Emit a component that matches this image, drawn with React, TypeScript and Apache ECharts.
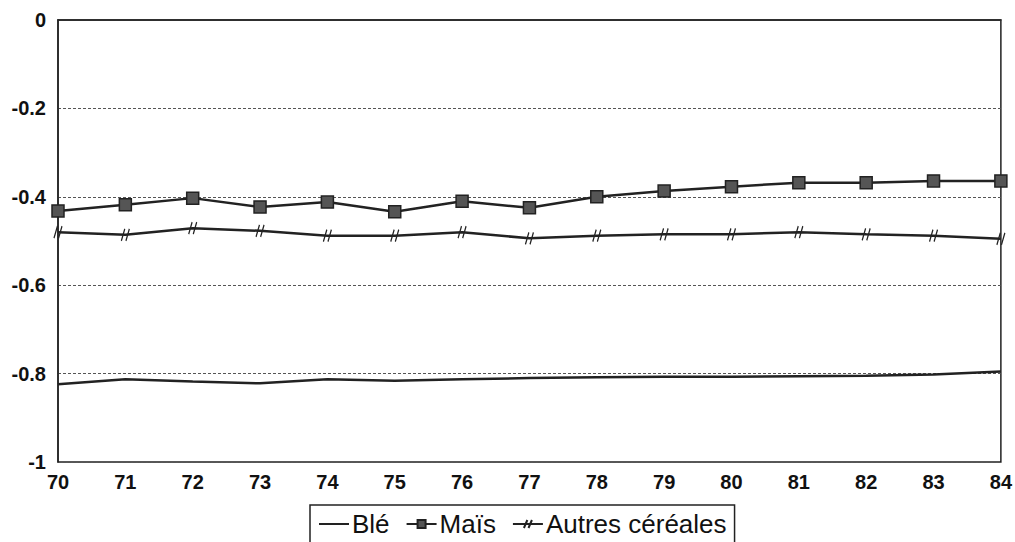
import React, { useEffect, useRef } from "react";
import * as echarts from "echarts";

const years = ["70", "71", "72", "73", "74", "75", "76", "77", "78", "79", "80", "81", "82", "83", "84"];
const ble = [-0.824, -0.813, -0.818, -0.822, -0.813, -0.816, -0.813, -0.81, -0.808, -0.807, -0.807, -0.806, -0.805, -0.802, -0.795];
const mais = [-0.432, -0.418, -0.403, -0.423, -0.412, -0.434, -0.41, -0.425, -0.4, -0.387, -0.377, -0.368, -0.368, -0.364, -0.364];
const autres = [-0.48, -0.486, -0.471, -0.477, -0.488, -0.488, -0.48, -0.494, -0.488, -0.485, -0.485, -0.48, -0.485, -0.488, -0.495];
const seriesNames = ["Blé", "Maïs", "Autres céréales"];

const FONT = "'Liberation Sans', Arial, sans-serif";
const tickSymbol = "path://M4,0 L1,12 M8,0 L5,12";

export default function App() {
  const ref = useRef<HTMLDivElement>(null);
  useEffect(() => {
    if (!ref.current) return;
    const chart = echarts.init(ref.current, undefined, { renderer: "svg" });
    chart.setOption({
      animation: false,
      backgroundColor: "#fff",
      grid: {
        left: 58,
        right: 10,
        top: 20,
        bottom: 80,
        show: true,
        borderColor: "#222",
        borderWidth: 1.5,
        containLabel: false,
      },
      legend: {
        left: 310,
        top: 505,
        data: [
          { name: seriesNames[0], itemStyle: { opacity: 0 } },
          { name: seriesNames[1] },
          { name: seriesNames[2] },
        ],
        itemWidth: 30,
        itemHeight: 10,
        itemGap: 16,
        padding: [6, 8, 12, 8],
        borderColor: "#222",
        borderWidth: 1.5,
        textStyle: { fontFamily: FONT, fontSize: 26, color: "#111", padding: [0, 0, 0, -2] },
      },
      xAxis: {
        type: "category",
        data: years,
        boundaryGap: false,
        axisLine: { lineStyle: { color: "#222", width: 1.5 } },
        axisTick: { show: false },
        splitLine: { show: false },
        axisLabel: {
          fontFamily: FONT,
          fontSize: 20,
          fontWeight: "bold",
          color: "#111",
          margin: 10,
          showMaxLabel: true,
          showMinLabel: true,
          interval: 0,
        },
      },
      yAxis: {
        type: "value",
        min: -1,
        max: 0,
        interval: 0.2,
        axisLine: { show: true, lineStyle: { color: "#222", width: 1.5 } },
        axisTick: { show: false },
        splitLine: { show: true, lineStyle: { color: "#555", width: 1, type: [3, 2] } },
        axisLabel: {
          fontFamily: FONT,
          fontSize: 20,
          fontWeight: "bold",
          color: "#111",
          margin: 12,
        },
      },
      series: [
        {
          name: seriesNames[0],
          type: "line",
          data: ble,
          showSymbol: false,
          symbol: "none",
          lineStyle: { color: "#222", width: 2.5 },
          itemStyle: { color: "#222" },
        },
        {
          name: seriesNames[1],
          type: "line",
          data: mais,
          symbol: "rect",
          symbolSize: 12,
          lineStyle: { color: "#222", width: 2.5 },
          itemStyle: { color: "#555", borderColor: "#222", borderWidth: 1.5 },
        },
        {
          name: seriesNames[2],
          type: "line",
          data: autres,
          symbol: tickSymbol,
          symbolSize: [8, 12],
          lineStyle: { color: "#222", width: 2.5 },
          itemStyle: { color: "none", borderColor: "#222", borderWidth: 1.5 },
        },
      ],
    });
    return () => chart.dispose();
  }, []);
  return <div ref={ref} style={{ width: 1015, height: 542, position: "absolute", left: 0, top: 0 }} />;
}
